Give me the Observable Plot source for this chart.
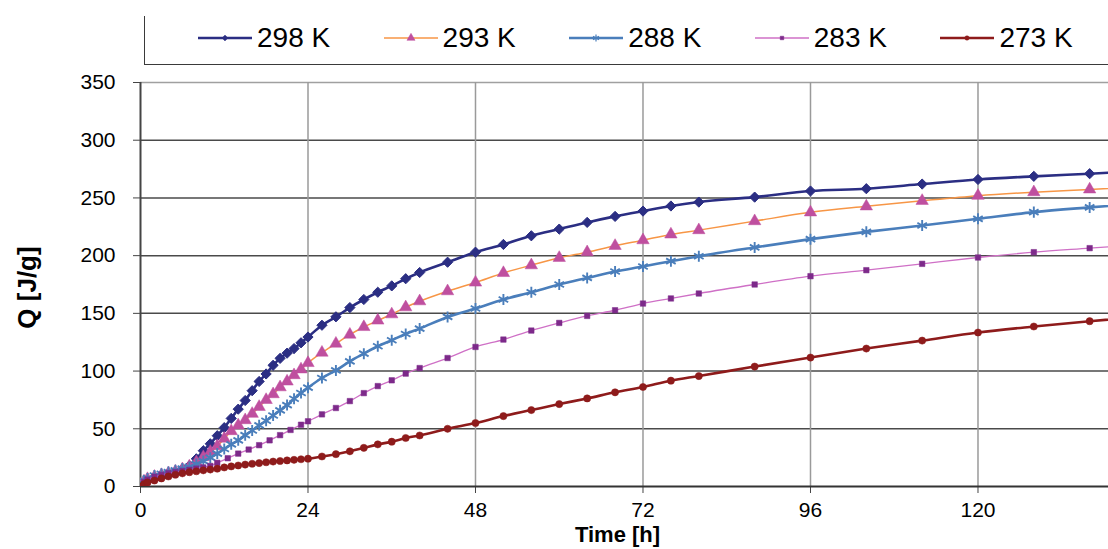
<!DOCTYPE html>
<html><head><meta charset="utf-8">
<script src="https://cdn.jsdelivr.net/npm/d3@7"></script>
<script src="https://cdn.jsdelivr.net/npm/@observablehq/plot@0.6"></script>
<style>
body{margin:0;background:#fff;font-family:"Liberation Sans",Arial,sans-serif;}
#wrap{position:relative;width:1108px;height:549px;overflow:hidden;background:#fff;}
#legend{position:relative;width:1108px;height:70px;}
#lbox{position:absolute;left:144px;top:16px;width:990px;height:48px;border-left:1.5px solid #3a3a3a;border-bottom:1.5px solid #3a3a3a;}
.item{position:absolute;top:22px;height:32px;display:flex;align-items:center;}
.item span{font-size:28px;color:#000;margin-left:4px;white-space:nowrap;}
</style>
</head><body>
<div id="wrap"><div id="legend"><div id="lbox"></div></div><div id="chart"></div></div>
<script>
// ---- data ----
const seriesNames = ["298 K", "293 K", "288 K", "283 K", "273 K"];
const hours = [0,0.5,1,2,3,4,5,6,7,8,9,10,11,12,13,14,15,16,17,18,19,20,21,22,23,24,26,28,30,32,34,36,38,40,44,48,52,56,60,64,68,72,76,80,88,96,104,112,120,128,136,144];
const hours283 = [0,0.5,1,2,3,4,5,6,7,8,9,10,11,12.5,14,15.5,17,18.5,20,21.5,23,24,26,28,30,32,34,36,38,40,44,48,52,56,60,64,68,72,76,80,88,96,104,112,120,128,136,144];
const q298 = [0,4,6,8,10,11.5,13,15,18,24,31,37,44,51,59,67,74.5,83,91,97.5,105,111,115.5,119.5,124.5,129.5,139.7,147,155,162,168.3,173.8,180,185.4,194.3,203,209.7,217.2,223,228.8,234,238.6,243,246.4,250.7,256,258,262,266,268.7,271,273.5];
const q293 = [0,4.5,6.5,8.5,10,11.5,13,15,17.5,21,25.5,30,35,41.5,48,53,57.5,63,69,75,80,86,91,96.5,101.5,107,116,123.8,131.6,138.2,143.8,149.2,155.3,160.5,169.2,176.7,185,191.7,198.1,203,208.5,213.4,218.4,222.1,229.9,237.5,242.7,247.5,251.9,255,257.4,260];
const q288 = [0,5,7,9.5,11,12.5,14,15.5,17,19.5,22,25,28.5,32.5,36.5,40,44.5,48.5,53,57,61.5,66,70.5,76,81,85.6,94,100.6,108.4,115.1,121.5,126.7,132.1,136.8,146.9,154.2,162,168.3,175,180.7,186.3,190.6,195.2,199.5,207.1,214.3,220.6,226.1,231.9,237.7,241.8,245.5];
const q283 = [0,4,6,8.5,10,11.5,12.5,13.5,14.5,15.5,16.5,17.8,20.5,24.5,28.5,32,35.8,40,44.5,49,53.5,56.5,62.5,68,74,80.9,87,92,97.8,102.6,111.3,120.9,127.3,135.1,141.7,147.8,152.7,158.5,162.9,167.2,175,182.2,187.4,192.9,198.4,203,206.5,210];
const q273 = [0,2,3.5,5.2,7,8.7,10.2,11.4,12.4,13.2,14,14.7,15.4,16.5,17.4,18.2,19,19.7,20.3,21,21.6,22.1,22.6,23.1,23.6,24.1,26,28,30.5,33.5,36.5,38.8,42,44.2,50,55,61,66.2,71.4,76.3,81.6,86.2,91.7,95.7,103.9,111.7,119.5,126.4,133.4,138.6,143.2,147.5];
const xTicks = [0,24,48,72,96,120];
const yTicks = [0,50,100,150,200,250,300,350];

// ---- styles ----
const styles = [
  {line:"#2b2e83", mark:"#2b2e83", lw:2.6, symbol:"diamond2", r:4.6, fill:true, sw:1, legR:2.6},
  {line:"#f79646", mark:"#bf4f9f", lw:1.5, symbol:"triangle", r:4.6, fill:true, sw:0.5, legR:3.0},
  {line:"#4a7ebb", mark:"#4a7ebb", lw:2.6, symbol:"asterisk", r:5.2, fill:false, sw:1.9, legR:3.2},
  {line:"#cf70c6", mark:"#7d2a8a", lw:1.3, symbol:"square", r:3.1, fill:true, sw:0.5, legR:2.0},
  {line:"#8e1b1b", mark:"#8e1b1b", lw:2.6, symbol:"circle", r:3.6, fill:true, sw:0.5, legR:2.2}
];
const qs = [q298, q293, q288, q283, q273];
const ts = [hours, hours, hours, hours283, hours];
const tables = seriesNames.map((name, i) => ts[i].map((t, j) => ({series: name, t, q: qs[i][j]})));

const seriesMarks = [];
tables.forEach((data, i) => {
  const s = styles[i];
  seriesMarks.push(Plot.line(data, {x: "t", y: "q", stroke: s.line, strokeWidth: s.lw, curve: "monotone-x", clip: true}));
  seriesMarks.push(Plot.dot(data, {x: "t", y: "q", symbol: s.symbol, r: s.r,
    fill: s.fill ? s.mark : "none", stroke: s.mark, strokeWidth: s.sw, clip: true}));
});

const font = "'Liberation Sans', Arial, sans-serif";
const chart = Plot.plot({
  width: 1108, height: 479,
  marginLeft: 140, marginRight: 0, marginTop: 12, marginBottom: 63,
  style: {fontFamily: font, color: "#000", background: "#fff"},
  x: {domain: [0, 138.7], ticks: xTicks},
  y: {domain: [0, 350], ticks: yTicks},
  marks: [
    Plot.ruleY(yTicks.filter(v => v > 0 && v < 350), {stroke: "#4a4a4a", strokeWidth: 1.5}),
    Plot.ruleY([350], {stroke: "#a0a0a0", strokeWidth: 1.5}),
    Plot.ruleX(xTicks.filter(v => v > 0), {stroke: "#9a9a9a", strokeWidth: 1.5}),
    Plot.axisY({ticks: yTicks, tickSize: 7, tickPadding: 18, fontSize: 21, label: null, stroke: "#444"}),
    Plot.axisX({ticks: xTicks, tickSize: 7, tickPadding: 9, fontSize: 21, label: null, stroke: "#444"}),
    Plot.ruleX([0], {stroke: "#444", strokeWidth: 2}),
    Plot.ruleY([0], {stroke: "#333", strokeWidth: 2}),
    ...seriesMarks,
    Plot.text(["Time [h]"], {frameAnchor: "bottom", lineAnchor: "middle", textAnchor: "middle", text: d => d, dy: 48, dx: -7, fontSize: 22, fontWeight: "bold", fill: "#000"}),
    Plot.text(["Q [J/g]"], {frameAnchor: "left", lineAnchor: "middle", textAnchor: "middle", text: d => d, dx: -113, dy: 3, rotate: -90, fontSize: 26, fontWeight: "bold", fill: "#000"})
  ]
});
document.getElementById("chart").appendChild(chart);

// ---- legend ----
const legend = document.getElementById("legend");
const symMap = {diamond2: d3.symbolDiamond2, triangle: d3.symbolTriangle, asterisk: d3.symbolAsterisk, square: d3.symbolSquare, circle: d3.symbolCircle};
seriesNames.forEach((name, i) => {
  const s = styles[i];
  const item = document.createElement("div");
  item.className = "item";
  item.style.left = (198 + i * 185.6) + "px";
  const svg = d3.create("svg").attr("width", 55).attr("height", 20);
  svg.append("line").attr("x1", 0).attr("x2", 54).attr("y1", 10).attr("y2", 10)
    .attr("stroke", s.line).attr("stroke-width", s.lw);
  svg.append("path").attr("transform", "translate(27,10)")
    .attr("d", d3.symbol(symMap[s.symbol], Math.PI * s.legR * s.legR)())
    .attr("fill", s.fill ? s.mark : "none").attr("stroke", s.mark).attr("stroke-width", s.fill ? 0.5 : 1.2);
  item.appendChild(svg.node());
  const span = document.createElement("span");
  span.textContent = name;
  item.appendChild(span);
  legend.appendChild(item);
});
</script>
</body></html>
